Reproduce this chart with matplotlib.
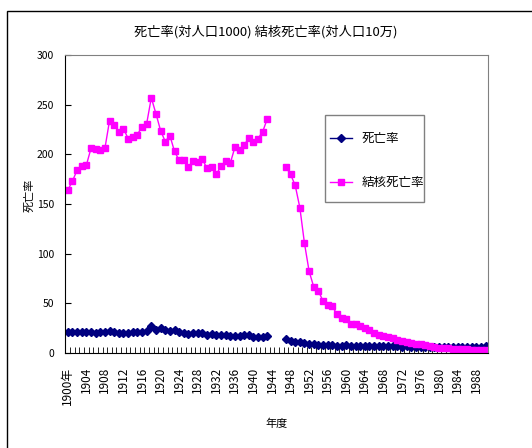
import numpy as np
import matplotlib.pyplot as plt
from matplotlib.patches import Rectangle

plt.rcParams['font.family'] = ['Noto Sans CJK JP', 'DejaVu Sans']

# 年度 1900-1990 (1944-1946 はデータなし)
years = list(range(1900, 1991))

shibou_1 = [20.8, 20.9, 21.3, 20.9, 20.8, 21.6, 20.0, 21.0, 20.9, 21.9,
            21.6, 20.6, 20.5, 20.0, 20.7, 20.7, 21.6, 21.7, 27.3, 22.8,
            25.4, 22.7, 22.4, 22.9, 21.3, 20.3, 19.1, 19.7, 19.8, 19.9,
            18.2, 19.0, 17.7, 17.7, 18.1, 16.8, 17.5, 17.1, 17.7, 17.8,
            16.5, 16.0, 16.1, 16.7]
shibou_2 = [14.6, 11.9, 11.6, 10.9, 9.9, 8.9, 8.9, 8.2, 7.8, 8.0,
            8.3, 7.4, 7.4, 7.6, 7.4, 7.5, 7.0, 6.9, 7.1, 6.8,
            6.8, 6.8, 6.8, 6.9, 6.6, 6.5, 6.6, 6.5, 6.3, 6.3,
            6.1, 6.1, 6.0, 6.2, 6.1, 6.0, 6.2, 6.2, 6.3, 6.2,
            6.2, 6.5, 6.4, 6.7]

kekkaku_1 = [164, 173, 184, 188, 189, 206, 205, 204, 206, 234,
             230, 223, 226, 216, 218, 220, 228, 231, 257, 241,
             224, 213, 219, 203, 194, 194, 187, 193, 192, 195,
             186, 187, 180, 188, 193, 191, 207, 204, 209, 217,
             213, 216, 223, 236]
kekkaku_2 = [187.2, 179.9, 168.8, 146.4, 110.3, 82.2, 66.5, 62.4, 52.3, 48.6,
             46.9, 39.0, 35.5, 34.2, 29.6, 29.3, 27.7, 25.5, 22.8, 20.3,
             18.5, 17.1, 16.1, 15.4, 13.5, 12.3, 11.1, 10.5, 9.5, 8.9,
             8.0, 7.3, 6.5, 5.5, 5.2, 4.8, 4.4, 4.1, 3.9, 3.6,
             3.5, 3.4, 3.1, 3.0]

gap = [None, None, None]
shibou = np.array(shibou_1 + gap + shibou_2, dtype=float)
kekkaku = np.array(kekkaku_1 + gap + kekkaku_2, dtype=float)

x = np.arange(len(years))
labels = ['1900年' if y == 1900 else str(y) for y in years]

fig = plt.figure(figsize=(5.32, 4.48), dpi=100)
ax = fig.add_axes([0.123, 0.212, 0.794, 0.665])

ax.plot(x, shibou, color='#000080', lw=1, marker='D', ms=4.5, label='死亡率')
ax.plot(x, kekkaku, color='#FF00FF', lw=1, marker='s', ms=4.5, label='結核死亡率')

ax.set_xlim(-0.5, len(years) - 0.5)
ax.set_ylim(0, 300)
ax.set_yticks(range(0, 301, 50))
ax.tick_params(axis='y', direction='in', length=4, labelsize=7.5, pad=8)

ax.set_xticks(x[::4])
ax.set_xticklabels(labels[::4], rotation=90, fontsize=8.5)
ax.set_xticks(np.arange(-0.5, len(years), 1), minor=True)
ax.tick_params(axis='x', which='major', length=0, pad=10)
ax.tick_params(axis='x', which='minor', direction='in', length=4)

for s in ['top', 'right']:
    ax.spines[s].set_color('#808080')
for s in ['left', 'bottom']:
    ax.spines[s].set_color('black')

ax.set_ylabel('死亡率', fontsize=8)
ax.yaxis.set_label_coords(-0.072, 0.53)
ax.set_xlabel('年度', fontsize=8)
ax.xaxis.set_label_coords(0.499, -0.22)

fig.text(0.5, 1 - 32 / 448, '死亡率(対人口1000) 結核死亡率(対人口10万)',
         ha='center', va='center', fontsize=9.5)

# 凡例（枠は別に描く）
ax.add_patch(Rectangle((0.615, 0.507), 0.234, 0.292, transform=ax.transAxes,
                       fill=False, edgecolor='#808080', lw=1, zorder=5))
ax.legend(loc='center left', bbox_to_anchor=(0.626, 0.646), fontsize=9,
          frameon=False, labelspacing=2.5, borderpad=0, borderaxespad=0,
          handlelength=1.76, handletextpad=0.8)

fig.patches.append(Rectangle((7 / 532, -0.1), 1.2, 1.1 - 12 / 448 + 0.002,
                             transform=fig.transFigure, fill=False,
                             edgecolor='black', lw=1))

fig.savefig('out.png', dpi=100)
